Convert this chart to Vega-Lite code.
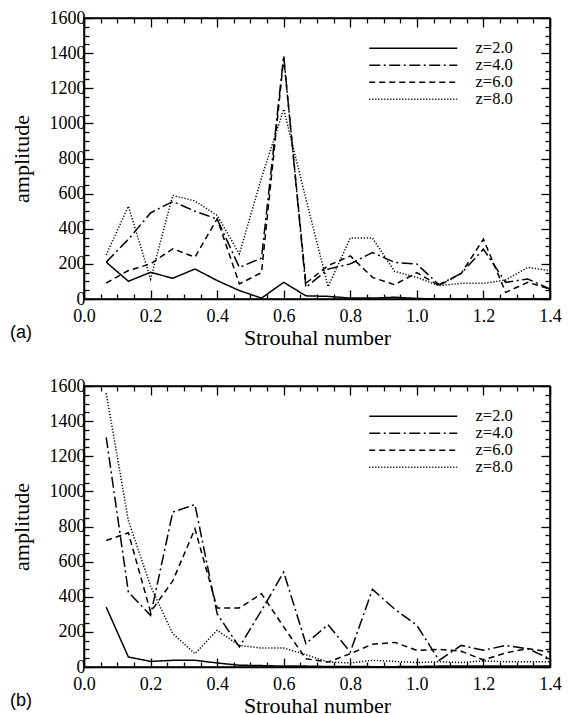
{
  "$schema": "https://vega.github.io/schema/vega-lite/v6.json",
  "padding": {"left": 9, "top": 8, "right": 5, "bottom": 5},
  "background": "white",
  "config": {
    "view": {"stroke": "black", "strokeWidth": 1.5},
    "axis": {"grid": false, "domainColor": "black", "domainWidth": 1.5, "tickColor": "black", "tickWidth": 1.3,
      "labelFont": "Liberation Serif", "labelFontSize": 18, "labelColor": "black", "labelOverlap": false, "labelFlush": false,
      "titleFont": "Liberation Serif", "titleFontSize": 22, "titleFontWeight": "normal", "titleColor": "black"},
    "legend": {"title": null, "symbolType": "M0,0H44", "symbolSize": 16, "symbolStrokeWidth": 1.5, "symbolStrokeColor": "black", "symbolFillColor": "transparent",
      "labelFont": "Liberation Serif", "labelFontSize": 16.5, "labelColor": "black", "labelOffset": 98, "rowPadding": 0,
      "orient": "none", "legendX": 277, "legendY": 22, "padding": 0}
  },
  "datasets": {
    "a": [
      {"st": 0.0667, "z2": 210, "z4": 210, "z6": 91, "z8": 251},
      {"st": 0.1333, "z2": 101, "z4": 340, "z6": 162, "z8": 528},
      {"st": 0.2, "z2": 152, "z4": 490, "z6": 200, "z8": 114},
      {"st": 0.2667, "z2": 118, "z4": 555, "z6": 286, "z8": 590},
      {"st": 0.3333, "z2": 171, "z4": 500, "z6": 238, "z8": 558},
      {"st": 0.4, "z2": 105, "z4": 455, "z6": 457, "z8": 476},
      {"st": 0.4667, "z2": 48, "z4": 180, "z6": 86, "z8": 257},
      {"st": 0.5333, "z2": 5, "z4": 233, "z6": 150, "z8": 690},
      {"st": 0.6, "z2": 95, "z4": 1384, "z6": 1373, "z8": 1081},
      {"st": 0.6667, "z2": 18, "z4": 66, "z6": 90, "z8": 570},
      {"st": 0.7333, "z2": 15, "z4": 170, "z6": 190, "z8": 70},
      {"st": 0.8, "z2": 5, "z4": 200, "z6": 245, "z8": 347},
      {"st": 0.8667, "z2": 5, "z4": 265, "z6": 123, "z8": 347},
      {"st": 0.9333, "z2": 10, "z4": 208, "z6": 81, "z8": 157},
      {"st": 1.0, "z2": 3, "z4": 199, "z6": 150, "z8": 123},
      {"st": 1.0667, "z2": 0, "z4": 81, "z6": 76, "z8": 76},
      {"st": 1.1333, "z2": 0, "z4": 146, "z6": 146, "z8": 89},
      {"st": 1.2, "z2": 0, "z4": 284, "z6": 341, "z8": 89},
      {"st": 1.2667, "z2": 0, "z4": 95, "z6": 38, "z8": 108},
      {"st": 1.3333, "z2": 0, "z4": 114, "z6": 95, "z8": 180},
      {"st": 1.4, "z2": 0, "z4": 57, "z6": 57, "z8": 161}
    ],
    "b": [
      {"st": 0.0667, "z2": 341, "z4": 1308, "z6": 720, "z8": 1559},
      {"st": 0.1333, "z2": 57, "z4": 427, "z6": 764, "z8": 834},
      {"st": 0.2, "z2": 32, "z4": 294, "z6": 313, "z8": 460},
      {"st": 0.2667, "z2": 38, "z4": 882, "z6": 490, "z8": 190},
      {"st": 0.3333, "z2": 38, "z4": 925, "z6": 787, "z8": 76},
      {"st": 0.4, "z2": 23, "z4": 303, "z6": 336, "z8": 209},
      {"st": 0.4667, "z2": 10, "z4": 114, "z6": 336, "z8": 123},
      {"st": 0.5333, "z2": 8, "z4": 322, "z6": 417, "z8": 108},
      {"st": 0.6, "z2": 5, "z4": 540, "z6": 228, "z8": 108},
      {"st": 0.6667, "z2": 5, "z4": 133, "z6": 47, "z8": 70},
      {"st": 0.7333, "z2": 3, "z4": 241, "z6": 28, "z8": 28},
      {"st": 0.8, "z2": 3, "z4": 85, "z6": 76, "z8": 23},
      {"st": 0.8667, "z2": 2, "z4": 442, "z6": 130, "z8": 38},
      {"st": 0.9333, "z2": 2, "z4": 330, "z6": 140, "z8": 32},
      {"st": 1.0, "z2": 3, "z4": 237, "z6": 95, "z8": 25},
      {"st": 1.0667, "z2": 5, "z4": 38, "z6": 100, "z8": 30},
      {"st": 1.1333, "z2": 5, "z4": 123, "z6": 90, "z8": 25},
      {"st": 1.2, "z2": 5, "z4": 95, "z6": 40, "z8": 35},
      {"st": 1.2667, "z2": 5, "z4": 123, "z6": 80, "z8": 30},
      {"st": 1.3333, "z2": 5, "z4": 104, "z6": 105, "z8": 30},
      {"st": 1.4, "z2": 5, "z4": 47, "z6": 85, "z8": 30}
    ]
  },
  "vconcat": [
    {
      "data": {"name": "a"},
      "transform": [{"fold": ["z2", "z4", "z6", "z8"], "as": ["z", "amp"]}],
      "width": 466, "height": 281,
      "title": {"text": "(a)", "orient": "bottom", "anchor": "start", "font": "Liberation Sans", "fontSize": 18, "fontWeight": "normal", "color": "black", "dx": 0, "dy": -24, "offset": 0},
      "layer": [
        {
          "mark": {"type": "line", "color": "black", "strokeWidth": 1.5},
          "encoding": {
            "x": {"field": "st", "type": "quantitative", "title": "Strouhal number", "scale": {"domain": [0, 1.4], "nice": false, "zero": false},
              "axis": {"orient": "bottom", "values": [0,0.05,0.1,0.15,0.2,0.25,0.3,0.35,0.4,0.45,0.5,0.55,0.6,0.65,0.7,0.75,0.8,0.85,0.9,0.95,1,1.05,1.1,1.15,1.2,1.25,1.3,1.35,1.4],
                "labelExpr": "abs(datum.value*5-round(datum.value*5))<0.001 ? format(datum.value,'.1f') : ''",
                "tickSize": {"condition": {"test": "abs(datum.value*5-round(datum.value*5))<0.001", "value": -9}, "value": -5},
                "labelPadding": 17, "titlePadding": -2}},
            "y": {"field": "amp", "type": "quantitative", "title": "amplitude", "scale": {"domain": [0, 1600], "nice": false},
              "axis": {"orient": "left", "values": [0,50,100,150,200,250,300,350,400,450,500,550,600,650,700,750,800,850,900,950,1000,1050,1100,1150,1200,1250,1300,1350,1400,1450,1500,1550,1600],
                "labelExpr": "datum.value % 200 == 0 ? format(datum.value,'d') : ''",
                "tickSize": {"condition": {"test": "datum.value % 200 == 0", "value": -9}, "value": -5},
                "labelPadding": 8, "titlePadding": 16}},
            "strokeDash": {"field": "z", "type": "nominal", "scale": {"domain": ["z2", "z4", "z6", "z8"], "range": [[1, 0], [11, 3.5, 2, 3.5], [6, 4], [1.2, 1.8]]},
              "legend": {"labelExpr": "'z=' + substring(datum.label, 1) + '.0'"}}
          }
        },
        {
          "mark": {"type": "line", "opacity": 0},
          "encoding": {
            "x": {"field": "st", "type": "quantitative", "title": null,
              "axis": {"orient": "top", "labels": false, "values": [0,0.05,0.1,0.15,0.2,0.25,0.3,0.35,0.4,0.45,0.5,0.55,0.6,0.65,0.7,0.75,0.8,0.85,0.9,0.95,1,1.05,1.1,1.15,1.2,1.25,1.3,1.35,1.4],
                "tickSize": {"condition": {"test": "abs(datum.value*5-round(datum.value*5))<0.001", "value": -9}, "value": -5}}},
            "y": {"field": "amp", "type": "quantitative", "title": null,
              "axis": {"orient": "right", "labels": false, "values": [0,50,100,150,200,250,300,350,400,450,500,550,600,650,700,750,800,850,900,950,1000,1050,1100,1150,1200,1250,1300,1350,1400,1450,1500,1550,1600],
                "tickSize": {"condition": {"test": "datum.value % 200 == 0", "value": -9}, "value": -5}}},
            "detail": {"field": "z"}
          }
        }
      ],
      "resolve": {"axis": {"x": "independent", "y": "independent"}}
    },
    {
      "data": {"name": "b"},
      "transform": [{"fold": ["z2", "z4", "z6", "z8"], "as": ["z", "amp"]}],
      "width": 466, "height": 281,
      "title": {"text": "(b)", "orient": "bottom", "anchor": "start", "font": "Liberation Sans", "fontSize": 18, "fontWeight": "normal", "color": "black", "dx": 0, "dy": -24, "offset": 0},
      "layer": [
        {
          "mark": {"type": "line", "color": "black", "strokeWidth": 1.5},
          "encoding": {
            "x": {"field": "st", "type": "quantitative", "title": "Strouhal number", "scale": {"domain": [0, 1.4], "nice": false, "zero": false},
              "axis": {"orient": "bottom", "values": [0,0.05,0.1,0.15,0.2,0.25,0.3,0.35,0.4,0.45,0.5,0.55,0.6,0.65,0.7,0.75,0.8,0.85,0.9,0.95,1,1.05,1.1,1.15,1.2,1.25,1.3,1.35,1.4],
                "labelExpr": "abs(datum.value*5-round(datum.value*5))<0.001 ? format(datum.value,'.1f') : ''",
                "tickSize": {"condition": {"test": "abs(datum.value*5-round(datum.value*5))<0.001", "value": -9}, "value": -5},
                "labelPadding": 17, "titlePadding": -2}},
            "y": {"field": "amp", "type": "quantitative", "title": "amplitude", "scale": {"domain": [0, 1600], "nice": false},
              "axis": {"orient": "left", "values": [0,50,100,150,200,250,300,350,400,450,500,550,600,650,700,750,800,850,900,950,1000,1050,1100,1150,1200,1250,1300,1350,1400,1450,1500,1550,1600],
                "labelExpr": "datum.value % 200 == 0 ? format(datum.value,'d') : ''",
                "tickSize": {"condition": {"test": "datum.value % 200 == 0", "value": -9}, "value": -5},
                "labelPadding": 8, "titlePadding": 16}},
            "strokeDash": {"field": "z", "type": "nominal", "scale": {"domain": ["z2", "z4", "z6", "z8"], "range": [[1, 0], [11, 3.5, 2, 3.5], [6, 4], [1.2, 1.8]]},
              "legend": {"labelExpr": "'z=' + substring(datum.label, 1) + '.0'"}}
          }
        },
        {
          "mark": {"type": "line", "opacity": 0},
          "encoding": {
            "x": {"field": "st", "type": "quantitative", "title": null,
              "axis": {"orient": "top", "labels": false, "values": [0,0.05,0.1,0.15,0.2,0.25,0.3,0.35,0.4,0.45,0.5,0.55,0.6,0.65,0.7,0.75,0.8,0.85,0.9,0.95,1,1.05,1.1,1.15,1.2,1.25,1.3,1.35,1.4],
                "tickSize": {"condition": {"test": "abs(datum.value*5-round(datum.value*5))<0.001", "value": -9}, "value": -5}}},
            "y": {"field": "amp", "type": "quantitative", "title": null,
              "axis": {"orient": "right", "labels": false, "values": [0,50,100,150,200,250,300,350,400,450,500,550,600,650,700,750,800,850,900,950,1000,1050,1100,1150,1200,1250,1300,1350,1400,1450,1500,1550,1600],
                "tickSize": {"condition": {"test": "datum.value % 200 == 0", "value": -9}, "value": -5}}},
            "detail": {"field": "z"}
          }
        }
      ],
      "resolve": {"axis": {"x": "independent", "y": "independent"}}
    }
  ],
  "spacing": 27,
  "resolve": {"scale": {"strokeDash": "independent"}, "legend": {"strokeDash": "independent"}}
}
